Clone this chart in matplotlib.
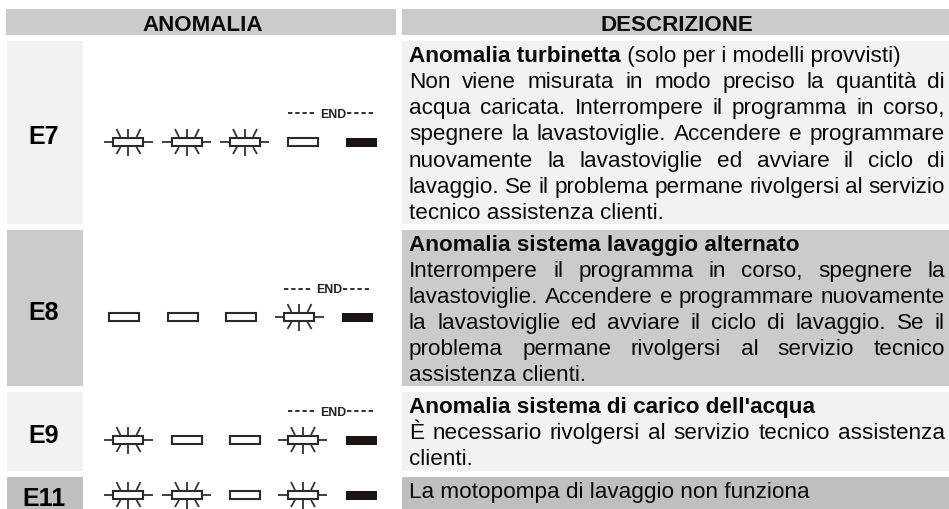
import matplotlib
matplotlib.use("Agg")
import matplotlib.pyplot as plt
from matplotlib.patches import Rectangle

plt.rcParams['font.family'] = ['Liberation Sans', 'DejaVu Sans']

W, H = 949, 509
headers = ["ANOMALIA", "DESCRIZIONE"]
codes = ["E7", "E8", "E9", "E11"]
# B = blinking, O = off, F = on (filled)
states = [list("BBBOF"), list("OOOBF"), list("BOOBF"), list("BBOBF")]
end_label = "END"
bold_heads = ["Anomalia turbinetta", "Anomalia sistema lavaggio alternato",
              "Anomalia sistema di carico dell'acqua", ""]
head_tails = [" (solo per i modelli provvisti)", "", "", ""]
body_lines = [
    [("Non viene misurata in modo preciso la quantità di", True),
     ("acqua caricata. Interrompere il programma in corso,", True),
     ("spegnere la lavastoviglie. Accendere e programmare", True),
     ("nuovamente la lavastoviglie ed avviare il ciclo di", True),
     ("lavaggio. Se il problema permane rivolgersi al servizio", True),
     ("tecnico assistenza clienti.", False)],
    [("Interrompere il programma in corso, spegnere la", True),
     ("lavastoviglie. Accendere e programmare nuovamente", True),
     ("la lavastoviglie ed avviare il ciclo di lavaggio. Se il", True),
     ("problema permane rivolgersi al servizio tecnico", True),
     ("assistenza clienti.", False)],
    [("È necessario rivolgersi al servizio tecnico assistenza", True),
     ("clienti.", False)],
    [("La motopompa di lavaggio non funziona", False)],
]

# layout (pixels)
row_top = [41, 230, 392, 477]
row_bot = [224, 386, 471, 509]
row_col = ["#f2f2f2", "#cbcbcb", "#f2f2f2", "#bfbfbf"]
code_base = [144, 320, 443, 506]
base_y = [62, 250.5, 412.5, 498]
icon_y = [142, 317, 440, 495]
icon_x = [[128.5, 187, 245, 303, 361.5], [124.5, 183, 241.5, 299.5, 357.5],
          [128.5, 187, 245, 303, 361.5], [128.5, 187, 245, 303, 361.5]]
end_y = [113, 288.7, 411, None]
LEFT, RIGHT = 409, 945
PITCH = 26.15
FS = 16.2
INK = "#0a0a0a"

fig = plt.figure(figsize=(W / 100, H / 100), dpi=100)
ax = fig.add_axes([0, 0, 1, 1])
ax.set_xlim(0, W)
ax.set_ylim(H, 0)
ax.axis("off")
rend = fig.canvas.get_renderer()


def box(x0, y0, x1, y1, c):
    ax.add_patch(Rectangle((x0, y0), x1 - x0, y1 - y0, fc=c, ec="none", zorder=1))


def width(s, weight="normal"):
    t = ax.text(0, 0, s, fontsize=FS, fontweight=weight)
    w = t.get_window_extent(rend).width
    t.remove()
    return w


def put(x, y, s, weight="normal"):
    ax.text(x, y, s, fontsize=FS, fontweight=weight, color=INK, va="baseline", ha="left", zorder=3)


def justified(y, s):
    words = s.split(" ")
    adv = [width(w + "|") - width("|") for w in words]
    gap = (RIGHT - LEFT - sum(adv)) / (len(words) - 1)
    x = LEFT
    for w, a in zip(words, adv):
        put(x, y, w)
        x += a + gap


def icon(cx, cy, state):
    hw, hh = 15, 4
    if state == "F":
        ax.add_patch(Rectangle((cx - hw - .5, cy - hh - .5), 2 * hw + 1, 2 * hh + 1, fc="#1c1414", ec="none", zorder=3))
        return
    ax.add_patch(Rectangle((cx - hw, cy - hh), 2 * hw, 2 * hh, fc="white", ec="#2a2a2a", lw=1.5, zorder=3))
    if state == "B":
        for dx0, dy0, dx1, dy1 in [(-24.5, 0, -15, 0), (15, 0, 24.5, 0), (0, -13, 0, -4), (0, 4, 0, 14),
                                   (-12, -13, -8, -5), (12, -13, 8, -5), (-12, 12, -8, 5), (12, 12, 8, 5)]:
            ax.plot([cx + dx0, cx + dx1], [cy + dy0, cy + dy1], color="#333333", lw=1.3, zorder=2, solid_capstyle="butt")


box(6, 9, 396, 35, "#cbcbcb")
box(402, 9, 949, 35, "#cbcbcb")
ax.text(202.5, 22.5, headers[0], fontsize=16.1, fontweight="bold", color=INK, ha="center", va="center_baseline", zorder=3)
ax.text(676.5, 22.5, headers[1], fontsize=16.1, fontweight="bold", color=INK, ha="center", va="center_baseline", zorder=3)

for i, code in enumerate(codes):
    box(7, row_top[i], 83, row_bot[i], row_col[i])
    box(402, row_top[i], 949, row_bot[i], row_col[i])
    ax.text(44, code_base[i], code, fontsize=18, fontweight="bold", color="black", ha="center", va="baseline", zorder=3)
    for x, s in zip(icon_x[i], states[i]):
        icon(x, icon_y[i], s)
    if end_y[i] is not None:
        x3, x4 = icon_x[i][3], icon_x[i][4]
        mid = (x3 + x4) / 2 + 1
        ax.text(mid, end_y[i], end_label, fontsize=8.8, fontweight="bold", color="#222222", ha="center", va="center_baseline", zorder=3)
        dash = (0, (2.4, 1.6))
        ax.plot([x3 - 15, mid - 17], [end_y[i]] * 2, color="#222222", lw=1.3, ls=dash, zorder=3, dash_capstyle="butt")
        ax.plot([mid + 14, x4 + 15], [end_y[i]] * 2, color="#222222", lw=1.3, ls=dash, zorder=3, dash_capstyle="butt")
    y = base_y[i]
    n = 0
    if bold_heads[i]:
        put(LEFT, y, bold_heads[i], "bold")
        if head_tails[i]:
            put(LEFT + width(bold_heads[i] + "|", "bold") - width("|", "bold"), y, head_tails[i])
        n = 1
    for k, (line, just) in enumerate(body_lines[i]):
        yy = y + (k + n) * PITCH
        if just:
            justified(yy, line)
        else:
            put(LEFT, yy, line)

fig.savefig("out.png", dpi=100, facecolor="white")
